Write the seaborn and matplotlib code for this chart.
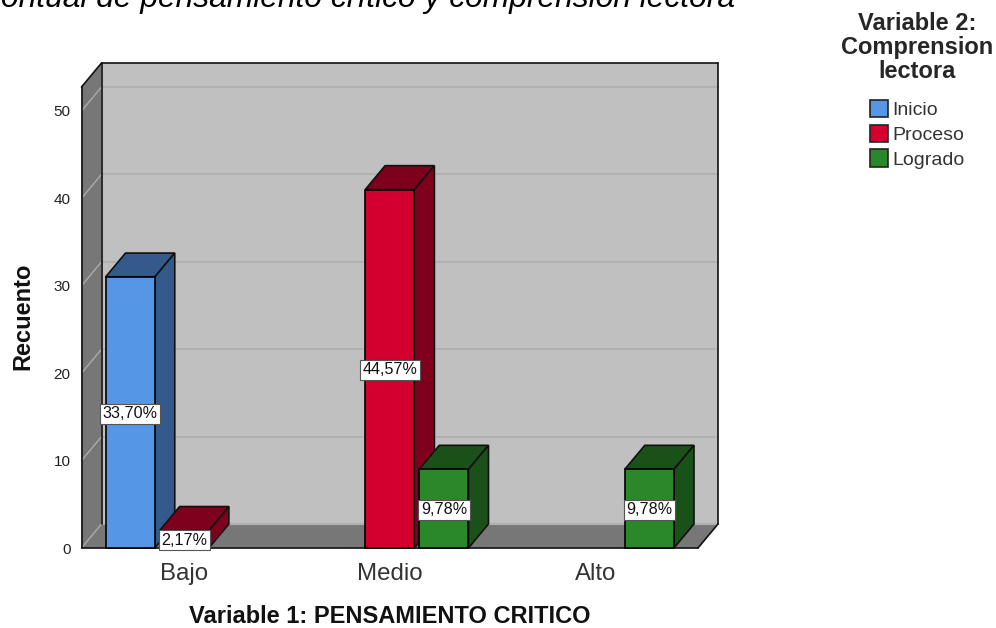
import matplotlib
matplotlib.use("Agg")
import matplotlib.pyplot as plt
from matplotlib.colors import to_rgb
import pandas as pd
import seaborn as sns

# --- data ---
categories = ["Bajo", "Bajo", "Medio", "Medio", "Alto"]
levels = ["Inicio", "Proceso", "Proceso", "Logrado", "Logrado"]
counts = [31, 2, 41, 9, 9]
pct_labels = ["33,70%", "2,17%", "44,57%", "9,78%", "9,78%"]
category_order = ["Bajo", "Medio", "Alto"]
level_order = ["Inicio", "Proceso", "Logrado"]
palette = ["#5596E6", "#D3002F", "#2A872A"]
y_ticks = [0, 10, 20, 30, 40, 50]
title_text = "ontual de pensamiento crítico y comprensión lectora"
x_title = "Variable 1: PENSAMIENTO CRITICO"
y_title = "Recuento"
legend_title = "Variable 2:\nComprension\nlectora"

# --- style ---
W, H = 996, 628
L, R, T, B = 81.5, 698, 87, 548      # front plane, pixels
PX_PER_UNIT = 8.74
DEPTH_X_PX, DEPTH_Y_PX = 20, 24
WALL = "#C0C0C0"
SIDE = "#777777"
SHADE = 0.60

sns.set_theme(style="white")
plt.rcParams["font.family"] = ["Liberation Sans", "DejaVu Sans"]

fig = plt.figure(figsize=(W / 100, H / 100), dpi=100, facecolor="white")
ax = fig.add_axes([L / W, 1 - B / H, (R - L) / W, (B - T) / H])

df = pd.DataFrame({"cat": categories, "level": levels, "count": counts})
sns.barplot(data=df, x="cat", y="count", hue="level", order=category_order,
            hue_order=level_order, palette=palette, width=0.79, gap=0.09,
            saturation=1, edgecolor="black", linewidth=1.2, ax=ax, zorder=5)
bars = sorted([p for c in ax.containers for p in c if p.get_height() > 0],
              key=lambda p: p.get_x())

xmin, xmax = -0.5, 2.5
ymax = (B - T) / PX_PER_UNIT
ax.set_xlim(xmin, xmax)
ax.set_ylim(0, ymax)
dx = DEPTH_X_PX * (xmax - xmin) / (R - L)
dy = DEPTH_Y_PX / PX_PER_UNIT

for s in ax.spines.values():
    s.set_visible(False)
ax.patch.set_visible(False)

# walls and floor
ax.fill([xmin + dx, xmax + dx, xmax + dx, xmin + dx], [dy, dy, ymax + dy, ymax + dy],
        color=WALL, lw=0, zorder=1, clip_on=False)
ax.fill([xmin, xmin + dx, xmin + dx, xmin], [0, dy, ymax + dy, ymax],
        color=SIDE, lw=0, zorder=1, clip_on=False)
ax.fill([xmin, xmax, xmax + dx, xmin + dx], [0, 0, dy, dy],
        color=SIDE, lw=0, zorder=1, clip_on=False)
ax.plot([xmin + dx, xmax + dx], [dy, dy], color="#9C9C9C", lw=1.6, zorder=1.5, clip_on=False)
for t in y_ticks:
    ax.plot([xmin + dx, xmax + dx], [t + dy, t + dy], color="#B1B1B1", lw=1.4, zorder=1.5, clip_on=False)
    ax.plot([xmin, xmin + dx], [t, t + dy], color="#ABABAB", lw=1.0, zorder=1.5, clip_on=False)
frame = dict(color="#111111", lw=1.2, zorder=2, clip_on=False, solid_capstyle="round")
ax.plot([xmin, xmin], [0, ymax], **frame)
ax.plot([xmin, xmin + dx], [ymax, ymax + dy], **frame)
ax.plot([xmin + dx, xmax + dx], [ymax + dy, ymax + dy], **frame)
ax.plot([xmin + dx, xmin + dx], [dy, ymax + dy], **frame)
ax.plot([xmax + dx, xmax + dx], [dy, ymax + dy], **frame)
ax.plot([xmax + dx, xmax], [dy, 0], **frame)
ax.plot([xmin, xmax], [0, 0], **frame)

# bar depth faces and labels, built from the bars seaborn drew
for i, (bar, label) in enumerate(zip(bars, pct_labels)):
    x0, x1, h = bar.get_x(), bar.get_x() + bar.get_width(), bar.get_height()
    dark = tuple(c * SHADE for c in to_rgb(bar.get_facecolor()[:3]))
    z = 5 + i
    bar.set_zorder(z + 0.5)
    bar.set_clip_on(False)
    kw = dict(facecolor=dark, edgecolor="#111111", linewidth=1.2, zorder=z, clip_on=False, closed=True)
    ax.add_patch(plt.Polygon([(x0, h), (x1, h), (x1 + dx, h + dy), (x0 + dx, h + dy)], **kw))
    ax.add_patch(plt.Polygon([(x1, 0), (x1 + dx, dy), (x1 + dx, h + dy), (x1, h)], **kw))
    ax.annotate(label, xy=((x0 + x1) / 2, h / 2), xytext=(0, -0.8), textcoords="offset points",
                ha="center", va="center", fontsize=11.6, color="#111111",
                zorder=20, annotation_clip=False,
                bbox=dict(boxstyle="square,pad=0.16", fc="white", ec="#555555", lw=0.8))

# axes text
ax.set_yticks(y_ticks)
ax.tick_params(axis="y", length=0, pad=8, labelsize=11, labelcolor="#222222")
ax.tick_params(axis="x", length=0, pad=10.5, labelsize=17.3, labelcolor="#333333")
ax.set_xlabel(x_title, fontsize=17, fontweight="bold", color="#111111")
ax.set_ylabel(y_title, fontsize=17, fontweight="bold", color="#111111")
ax.xaxis.set_label_coords(0.5, -(623 - B) / (B - T), transform=ax.transAxes)
ax.xaxis.label.set_va("baseline")
ax.yaxis.set_label_coords((23 - L) / (R - L), (B - 316) / (B - T), transform=ax.transAxes)
ax.yaxis.label.set_va("center")

# legend
handles, labels = ax.get_legend_handles_labels()
leg = ax.legend(handles, labels, title=legend_title, frameon=False,
                loc="upper center", bbox_to_anchor=(917.5 / W, 1 - 12 / H),
                bbox_transform=fig.transFigure, fontsize=14,
                title_fontproperties={"weight": "bold", "size": 17},
                handlelength=0.92, handleheight=1.0, handletextpad=0.22,
                labelspacing=0.28, borderpad=0, borderaxespad=0)
leg.get_title().set_multialignment("center")
leg.get_title().set_linespacing(1.06)
leg._legend_box.sep = 12
for t in leg.get_texts():
    t.set_color("#333333")
for h in leg.legend_handles:
    h.set_edgecolor("#222222")
    h.set_linewidth(1.2)

fig.text(735 / W, 1 - 7 / H, title_text, ha="right", va="baseline", fontsize=22.9,
         style="italic", color="black")

fig.savefig("out.png", dpi=100, facecolor="white")
